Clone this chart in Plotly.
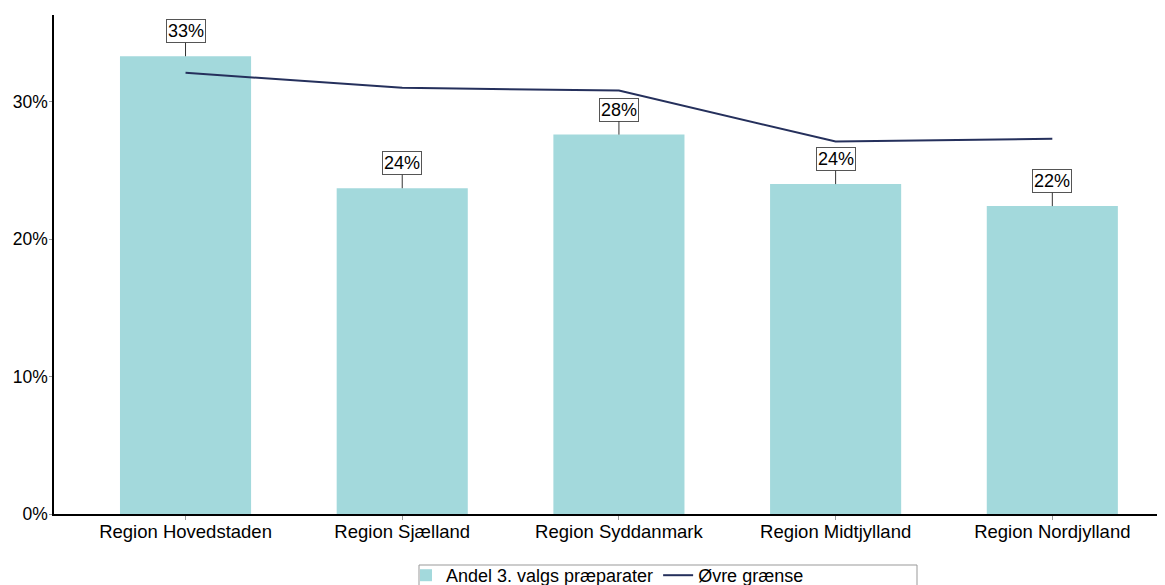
import plotly.graph_objects as go

regions = ["Region Hovedstaden", "Region Sjælland", "Region Syddanmark", "Region Midtjylland", "Region Nordjylland"]
andel = [0.333, 0.237, 0.276, 0.240, 0.224]
ovre = [0.321, 0.310, 0.308, 0.271, 0.273]
label_text = ["33%", "24%", "28%", "24%", "22%"]

# page body adds an 8px offset; layout numbers below are in figure pixels
L, T, B = 46, 7, 506
PH = B - T

fig = go.Figure()
fig.add_trace(go.Bar(x=regions, y=andel, name="Andel 3. valgs præparater",
                     marker=dict(color="#A3D9DC", line=dict(width=0)), width=0.605))
fig.add_trace(go.Scatter(x=regions, y=ovre, name="Øvre grænse", mode="lines",
                         line=dict(color="#25305C", width=2)))

for r, v, t in zip(regions, andel, label_text):
    fig.add_annotation(x=r, y=v, text=t, showarrow=True, arrowhead=0, arrowwidth=1,
                       arrowcolor="#333333", ax=0, ay=-25, bordercolor="#555555",
                       borderwidth=1, borderpad=1, bgcolor="white",
                       font=dict(size=18, color="black"))

# legend frame
fig.add_shape(type="rect", xref="paper", yref="paper",
              x0=(411 - L) / 1111, x1=(909 - L) / 1111,
              y0=(B - 600) / PH, y1=(B - 557) / PH,
              line=dict(color="#999999", width=1), fillcolor="rgba(0,0,0,0)")

fig.update_layout(
    width=1165, height=585,
    margin=dict(l=L, r=8, t=T, b=585 - B),
    plot_bgcolor="white", paper_bgcolor="white",
    font=dict(family="Liberation Sans, Arial, sans-serif", size=18, color="black"),
    showlegend=True,
    legend=dict(orientation="h", xref="container", yref="container",
                x=398 / 1165, xanchor="left", y=1 - 549 / 585, yanchor="top",
                borderwidth=0, bgcolor="rgba(0,0,0,0)", font=dict(size=18),
                itemwidth=30, tracegroupgap=0),
)
fig.update_xaxes(range=[-0.607, 4.52], showline=True, linecolor="black", linewidth=1.5,
                 ticks="outside", tickcolor="#999999", ticklen=4, showgrid=False,
                 tickfont=dict(size=18.5), automargin=False, ticklabelstandoff=-4)
fig.update_yaxes(range=[0, 0.363], tickvals=[0, 0.1, 0.2, 0.3], tickformat=".0%",
                 showline=True, linecolor="black", linewidth=1.5, ticks="outside",
                 tickcolor="#999999", ticklen=3, showgrid=False, zeroline=False,
                 tickfont=dict(size=17.5), automargin=False, ticklabelstandoff=-2)

fig.write_html("out.html")
